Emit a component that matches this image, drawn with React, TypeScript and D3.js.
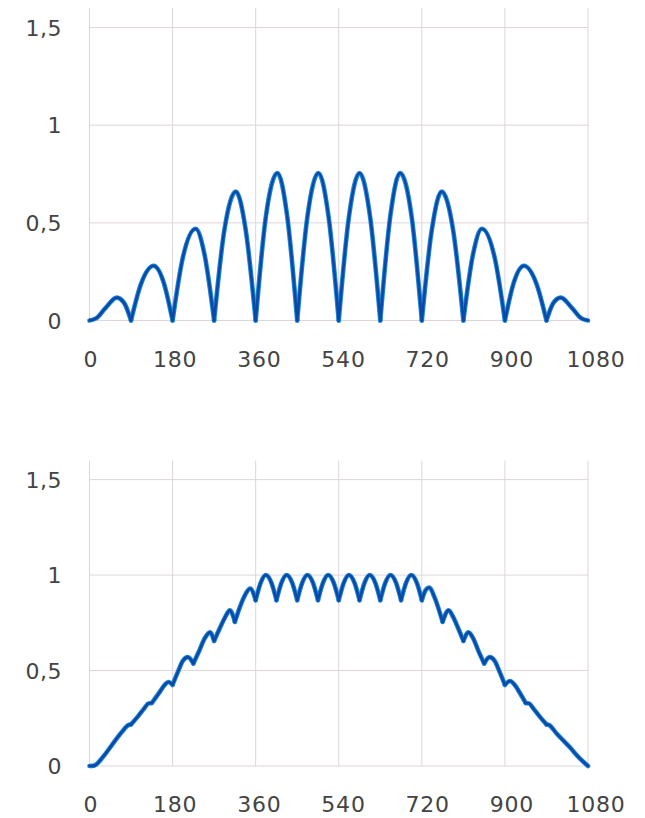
import React from 'react';
import * as d3 from 'd3';

const xTicks = [0, 180, 360, 540, 720, 900, 1080];
const yTicks = [0, 0.5, 1, 1.5];
const yTickLabels = ['0', '0,5', '1', '1,5'];

// upper chart: one arc per 90 units, [x, y]
const topArcs: [number, number][][] = [
  [[0, 0], [15, 0.012], [35, 0.065], [59, 0.117], [75, 0.09], [90, 0]],
  [[90, 0], [112, 0.19], [139, 0.28], [160, 0.2], [180, 0]],
  [[180, 0], [202, 0.32], [230, 0.47], [249, 0.34], [270, 0]],
  [[270, 0], [292, 0.46], [317, 0.66], [338, 0.47], [360, 0]],
  [[360, 0], [382, 0.53], [407, 0.755], [428, 0.54], [450, 0]],
  [[450, 0], [472, 0.53], [496, 0.755], [518, 0.53], [540, 0]],
  [[540, 0], [562, 0.53], [585, 0.755], [608, 0.53], [630, 0]],
  [[630, 0], [652, 0.54], [673, 0.755], [698, 0.53], [720, 0]],
  [[720, 0], [742, 0.47], [763, 0.66], [788, 0.46], [810, 0]],
  [[810, 0], [831, 0.34], [850, 0.47], [878, 0.32], [900, 0]],
  [[900, 0], [920, 0.2], [941, 0.28], [968, 0.19], [990, 0]],
  [[990, 0], [1005, 0.09], [1021, 0.117], [1045, 0.065], [1065, 0.012], [1080, 0]],
];

// lower chart: pieces between the cusps
const bottomArcs: [number, number][][] = [
  [[0, 0], [10, 0.002], [30, 0.05], [50, 0.115], [70, 0.178], [84, 0.214], [90, 0.218]],
  [[90, 0.218], [105, 0.26], [118, 0.3], [128, 0.328], [135, 0.33]],
  [[135, 0.33], [150, 0.38], [163, 0.425], [171, 0.44], [180, 0.425]],
  [[180, 0.425], [191, 0.49], [202, 0.55], [213, 0.57], [225, 0.537]],
  [[225, 0.537], [237, 0.6], [250, 0.67], [261, 0.7], [270, 0.655]],
  [[270, 0.655], [282, 0.72], [294, 0.78], [304, 0.815], [315, 0.755]],
  [[315, 0.755], [327, 0.84], [338, 0.9], [348, 0.93], [360, 0.868]],
  [[360, 0.868], [371, 0.96], [382, 1.0], [394, 0.96], [405, 0.868]],
  [[405, 0.868], [416, 0.96], [427, 1.0], [439, 0.96], [450, 0.868]],
  [[450, 0.868], [461, 0.96], [472, 1.0], [484, 0.96], [495, 0.868]],
  [[495, 0.868], [506, 0.96], [517, 1.0], [529, 0.96], [540, 0.868]],
  [[540, 0.868], [551, 0.96], [562, 1.0], [574, 0.96], [585, 0.868]],
  [[585, 0.868], [596, 0.96], [607, 1.0], [619, 0.96], [630, 0.868]],
  [[630, 0.868], [641, 0.96], [652, 1.0], [664, 0.96], [675, 0.868]],
  [[675, 0.868], [686, 0.96], [697, 1.0], [709, 0.96], [720, 0.868]],
  [[720, 0.868], [728, 0.92], [736, 0.935], [748, 0.88], [765, 0.755]],
  [[765, 0.755], [778, 0.815], [788, 0.78], [799, 0.72], [810, 0.655]],
  [[810, 0.655], [821, 0.7], [831, 0.67], [843, 0.6], [855, 0.537]],
  [[855, 0.537], [867, 0.57], [878, 0.55], [889, 0.49], [900, 0.425]],
  [[900, 0.425], [911, 0.445], [921, 0.425], [933, 0.38], [945, 0.33]],
  [[945, 0.33], [952, 0.328], [962, 0.3], [975, 0.26], [990, 0.218]],
  [[990, 0.218], [996, 0.214], [1012, 0.17], [1040, 0.1], [1060, 0.045], [1080, 0]],
];

const FONT = 'DejaVu Sans, sans-serif';

function Panel({ arcs, top, bottom }: { arcs: [number, number][][]; top: number; bottom: number }) {
  const x = d3.scaleLinear().domain([0, 1080]).range([89.5, 588]);
  const labelX = d3.scaleLinear().domain([0, 1080]).range([91, 596]);
  const y = d3.scaleLinear().domain([0, 1.6]).range([bottom, top]);
  const line = d3.line<[number, number]>()
    .x(d => x(d[0]))
    .y(d => y(d[1]))
    .curve(d3.curveMonotoneX);

  return (
    <g>
      {xTicks.map(t => (
        <line key={'vx' + t} x1={x(t)} x2={x(t)} y1={y(1.6)} y2={y(0)} stroke="#ddd5da" strokeWidth={1} />
      ))}
      {yTicks.map(t => (
        <line key={'hy' + t} x1={x(0)} x2={x(1080)} y1={y(t)} y2={y(t)} stroke="#ddd5da" strokeWidth={1} />
      ))}
      {yTicks.map((t, i) => (
        <text key={'ly' + t} x={62} y={y(t) + 2} textAnchor="end" dominantBaseline="middle"
          fontFamily={FONT} fontSize={22} letterSpacing={0.5} fill="#444">{yTickLabels[i]}</text>
      ))}
      {xTicks.map(t => (
        <text key={'lx' + t} x={labelX(t)} y={y(0) + 40} textAnchor="middle" dominantBaseline="middle"
          fontFamily={FONT} fontSize={22} letterSpacing={0.8} fill="#444">{t}</text>
      ))}
      {arcs.map((a, i) => (
        <path key={'o' + i} d={line(a) || ''} fill="none" stroke="#1f86d6" strokeWidth={4.6}
          strokeLinecap="round" strokeLinejoin="round" />
      ))}
      {arcs.map((a, i) => (
        <path key={'i' + i} d={line(a) || ''} fill="none" stroke="#0a49a6" strokeWidth={2.6}
          strokeLinecap="round" strokeLinejoin="round" />
      ))}
    </g>
  );
}

export default function App() {
  return (
    <svg width={645} height={818} style={{ position: 'absolute', left: 0, top: 0, background: '#fff' }}>
      <rect width={645} height={818} fill="#fff" />
      <Panel arcs={topArcs} top={8} bottom={320.5} />
      <Panel arcs={bottomArcs} top={460.5} bottom={766} />
    </svg>
  );
}
